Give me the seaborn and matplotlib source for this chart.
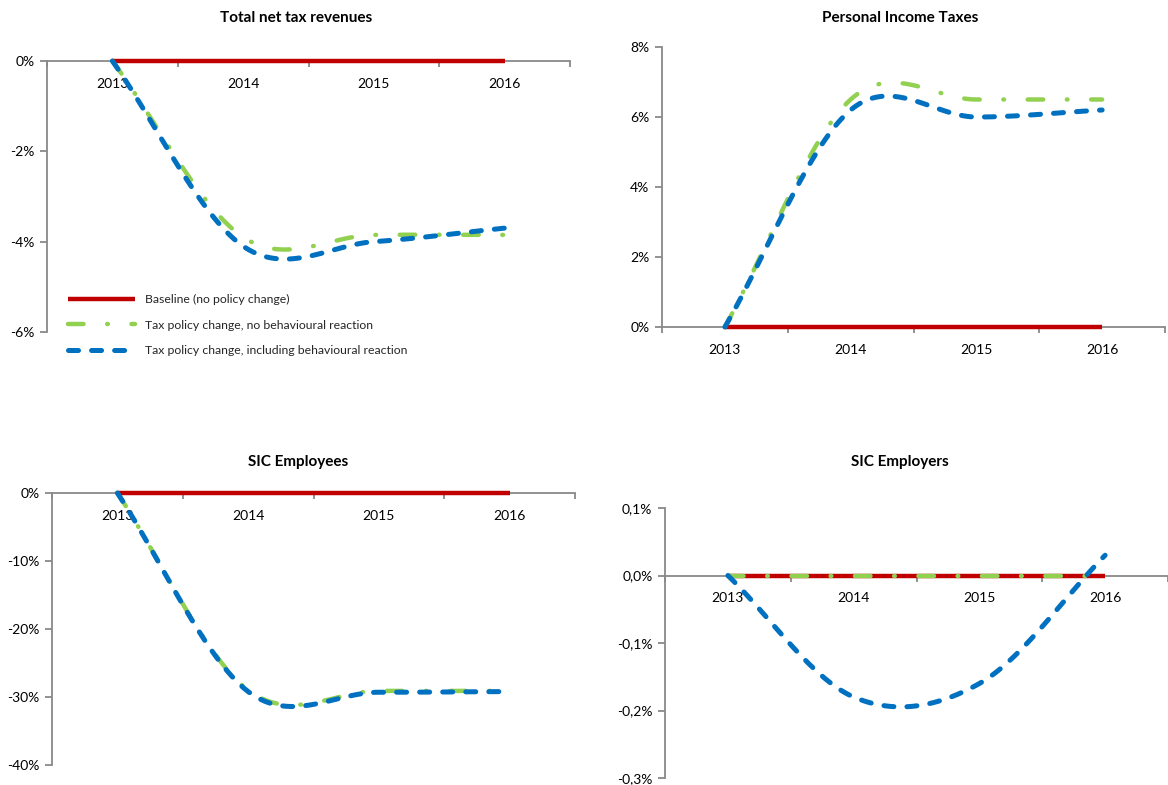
import numpy as np
import matplotlib
matplotlib.use("Agg")
import matplotlib.pyplot as plt
import seaborn as sns
from matplotlib.ticker import FixedLocator, NullFormatter

# ---------- data (change vs. baseline, in %) ----------
years = ["2013", "2014", "2015", "2016"]
series_names = [
    "Baseline (no policy change)",
    "Tax policy change, no behavioural reaction",
    "Tax policy change, including behavioural reaction",
]

total_baseline = [0, 0, 0, 0]
total_no_react = [0, -3.9, -3.85, -3.85]
total_react = [0, -4.1, -4.0, -3.7]

pit_baseline = [0, 0, 0, 0]
pit_no_react = [0, 6.5, 6.5, 6.5]
pit_react = [0, 6.2, 6.0, 6.2]

sic_ee_baseline = [0, 0, 0, 0]
sic_ee_no_react = [0, -29.0, -29.1, -29.1]
sic_ee_react = [0, -29.2, -29.3, -29.2]

sic_er_baseline = [0, 0, 0, 0]
sic_er_no_react = [0, 0, 0, 0]
sic_er_react = [0, -0.18, -0.16, 0.03]

RED, GREEN, BLUE = "#C00000", "#92D050", "#0070C0"
GREY = "#898989"
W, H = 1168, 785

sns.set_theme(style="white")
plt.rcParams["font.family"] = ["Lato", "DejaVu Sans"]
plt.rcParams["lines.scale_dashes"] = False


def smooth(vals, n=40):
    """Excel-like smoothed line: Catmull-Rom curve through the points,
    ends extended by reflection so the curve leaves the end points straight."""
    p = np.asarray(vals, float)
    ext = np.r_[2 * p[0] - p[1], p, 2 * p[-1] - p[-2]]
    xs, ys = [], []
    for i in range(len(p) - 1):
        t = np.linspace(0, 1, n, endpoint=(i == len(p) - 2))
        p1, p2 = ext[i + 1], ext[i + 2]
        m1 = (ext[i + 2] - ext[i]) / 2
        m2 = (ext[i + 3] - ext[i + 1]) / 2
        y = ((2 * t**3 - 3 * t**2 + 1) * p1 + (t**3 - 2 * t**2 + t) * m1
             + (-2 * t**3 + 3 * t**2) * p2 + (t**3 - t**2) * m2)
        xs.append(i + t)
        ys.append(y)
    return np.concatenate(xs), np.concatenate(ys)


def draw(ax, base, no_react, react):
    styles = [
        (base, RED, 3.2, "-", 3),
        (no_react, GREEN, 3.2, (0, (11.2, 17, 0.5, 17)), 4),
        (react, BLUE, 3.6, (0, (7.2, 9.4)), 5),
    ]
    for vals, col, lw, ls, z in styles:
        xs, ys = smooth(vals)
        sns.lineplot(x=xs, y=ys, ax=ax, color=col, lw=lw, sort=False,
                     estimator=None, zorder=z, clip_on=False)
        ln = ax.lines[-1]
        ln.set_linestyle(ls)
        ln.set_dash_capstyle("round")
        ln.set_solid_capstyle("butt")


def style_axes(ax, ylim, yticks, ylabels):
    ax.set_xlim(-0.5, len(years) - 0.5)
    ax.set_ylim(*ylim)
    ax.spines["top"].set_visible(False)
    ax.spines["right"].set_visible(False)
    ax.spines["bottom"].set_position(("data", 0))
    for s in ["left", "bottom"]:
        ax.spines[s].set_color(GREY)
        ax.spines[s].set_linewidth(1.3)
    ax.xaxis.set_major_locator(FixedLocator(np.arange(len(years) + 1) - 0.5))
    ax.xaxis.set_major_formatter(NullFormatter())
    ax.xaxis.set_minor_locator(FixedLocator(np.arange(len(years))))
    ax.set_xticklabels(years, minor=True)
    ax.tick_params(axis="x", which="major", direction="out", length=4,
                   width=1.3, color=GREY, bottom=True)
    ax.tick_params(axis="x", which="minor", length=0, pad=12,
                   labelsize=10, labelcolor="black", bottom=True)
    ax.set_yticks(yticks)
    ax.set_yticklabels(ylabels)
    ax.tick_params(axis="y", direction="out", length=5, width=1.3,
                   color=GREY, pad=4, labelsize=10, labelcolor="black",
                   left=True)
    ax.set_xlabel("")
    ax.set_ylabel("")
    ax.grid(False)


def add_axes(fig, left, right, top, bottom):
    return fig.add_axes([left / W, 1 - bottom / H, (right - left) / W,
                         (bottom - top) / H])


fig = plt.figure(figsize=(W / 100, H / 100), dpi=100)

# Total net tax revenues
ax1 = add_axes(fig, 47, 570, 61, 332)
draw(ax1, total_baseline, total_no_react, total_react)
style_axes(ax1, (-6, 0), [0, -2, -4, -6], ["0%", "-2%", "-4%", "-6%"])
ax1.legend(ax1.lines[:3], series_names, loc="upper left",
           bbox_to_anchor=(0.040, 0.140), frameon=False, fontsize=8.8,
           handlelength=5.5, handletextpad=0.8, labelspacing=1.2,
           borderpad=0, borderaxespad=0)

# Personal Income Taxes
ax2 = add_axes(fig, 662, 1165, 47, 327)
draw(ax2, pit_baseline, pit_no_react, pit_react)
style_axes(ax2, (0, 8), [0, 2, 4, 6, 8], ["0%", "2%", "4%", "6%", "8%"])

# SIC Employees
ax3 = add_axes(fig, 52, 575, 493, 765)
draw(ax3, sic_ee_baseline, sic_ee_no_react, sic_ee_react)
style_axes(ax3, (-40, 0), [0, -10, -20, -30, -40],
           ["0%", "-10%", "-20%", "-30%", "-40%"])

# SIC Employers
ax4 = add_axes(fig, 665, 1168, 508, 778)
draw(ax4, sic_er_baseline, sic_er_no_react, sic_er_react)
style_axes(ax4, (-0.3, 0.1), [0.1, 0.0, -0.1, -0.2, -0.3],
           ["0,1%", "0,0%", "-0,1%", "-0,2%", "-0,3%"])

titles = [("Total net tax revenues", 296, 18),
          ("Personal Income Taxes", 900, 18),
          ("SIC Employees", 298, 462),
          ("SIC Employers", 900, 462)]
for txt, x, y in titles:
    fig.text(x / W, 1 - y / H, txt, ha="center", va="center",
             fontsize=11, fontweight="bold", color="black")

fig.savefig("out.png", dpi=100)
